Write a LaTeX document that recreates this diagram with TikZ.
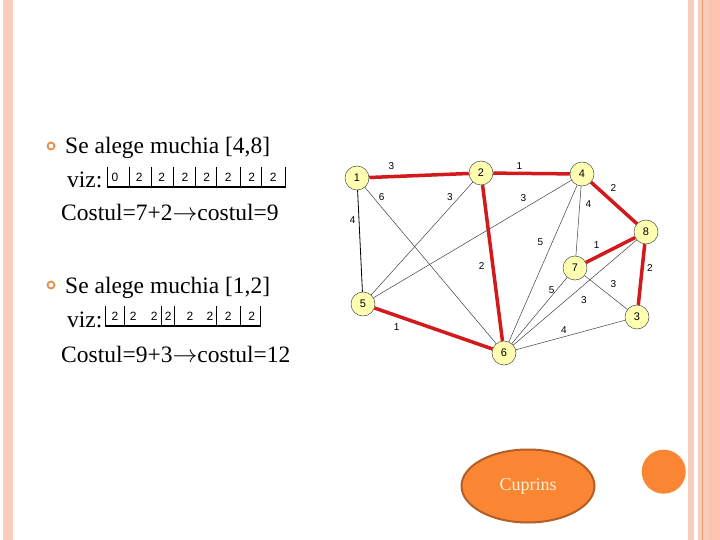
\documentclass[tikz,border=0pt]{standalone}
\usepackage{fontspec}
\setmainfont{Liberation Serif}
\newfontfamily\gfont{Liberation Sans}
\usetikzlibrary{shapes.geometric}
\definecolor{pinkband}{RGB}{250,204,188}
\definecolor{salmonband}{RGB}{252,196,176}
\definecolor{darkband}{RGB}{226,150,110}
\definecolor{nodefill}{RGB}{255,255,178}
\definecolor{edgered}{RGB}{210,25,28}
\definecolor{orangefill}{RGB}{250,134,52}
\definecolor{orangedraw}{RGB}{178,94,38}
\definecolor{bulletc}{RGB}{232,140,72}
\definecolor{cream}{RGB}{255,242,214}
\newcommand{\myarrow}{\ensuremath{\rightarrow}}
\tikzset{
  vert/.style={circle, draw=black!70, line width=0.5pt, fill=nodefill, minimum size=24pt, inner sep=0pt, font=\gfont\fontsize{11}{11}\selectfont},
  redge/.style={draw=edgered, line width=3.5pt},
  tedge/.style={draw=black!75, line width=0.5pt},
  elab/.style={font=\gfont\fontsize{10}{10}\selectfont, inner sep=0pt},
  bigtxt/.style={anchor=base west, inner sep=0pt, font=\fontsize{23.5}{27}\selectfont},
  cellnum/.style={font=\gfont\fontsize{12}{12}\selectfont, inner sep=0pt},
  bul/.style={circle, draw=bulletc, line width=1.8pt, minimum size=7pt, inner sep=0pt}
}
\begin{document}
\begin{tikzpicture}[x=1pt,y=-1pt]
\useasboundingbox (0,0) rectangle (720,540);
% borders
\fill[pinkband] (3,0) rectangle (13,540);
\fill[pinkband] (688,0) rectangle (694,540);
\fill[pinkband] (698,0) rectangle (720,540);
\fill[salmonband] (709,0) rectangle (720,540);
\fill[darkband] (701.5,0) rectangle (703,540);

% bullets and text
\node[bul] (b1) at (51,146) {};
\node[bul] (b2) at (51,285) {};
\node[bigtxt] (t1) at (65,154) {Se alege muchia [4,8]};
\node[bigtxt] (v1) at (67,188) {viz:};
\node[bigtxt] (c1) at (61,221) {Costul=7+2\myarrow costul=9};
\node[bigtxt] (t2) at (65,293) {Se alege muchia [1,2]};
\node[bigtxt] (v2) at (67,327) {viz:};
\node[bigtxt] (c2) at (61,362) {Costul=9+3\myarrow costul=12};

% table 1
\foreach \x in {107,129.3,151,173.3,195,216.7,240,261.7,285}
  \draw[line width=0.6pt] (\x,167) -- (\x,187);
\draw[line width=1.3pt] (106.5,187) -- (285.5,187);
\foreach \x/\d in {115/0,139.3/2,161.7/2,185/2,206.7/2,228.3/2,251.7/2,273.3/2}
  \node[cellnum] at (\x,177) {\d};

% table 2
\foreach \x in {105,124.3,161.7,174,216.7,240.7,260.7}
  \draw[line width=0.6pt] (\x,306) -- (\x,326);
\draw[line width=1.3pt] (104.5,326) -- (261.2,326);
\foreach \x/\d in {115/2,133.3/2,154.3/2,168.3/2,190/2,210/2,228.3/2,251.7/2}
  \node[cellnum] at (\x,316) {\d};

% graph nodes
\node[vert] (n1) at (357,178) {1};
\node[vert] (n2) at (481,173) {2};
\node[vert] (n4) at (582,174) {4};
\node[vert] (n8) at (646,232) {8};
\node[vert] (n7) at (575,268) {7};
\node[vert] (n5) at (363,304) {5};
\node[vert] (n3) at (637,317) {3};
\node[vert] (n6) at (504,353) {6};

% thin edges
\draw[tedge, line width=0.8pt, draw=black] (n1) -- (n5);
\draw[tedge] (n1) -- (n6);
\draw[tedge] (n2) -- (n5);
\draw[tedge] (n4) -- (n5);
\draw[tedge] (n4) -- (n6);
\draw[tedge] (n4) -- (n7);
\draw[tedge] (n7) -- (n6);
\draw[tedge] (n8) -- (n6);
\draw[tedge] (n7) -- (n3);
\draw[tedge] (n3) -- (n6);
% red edges
\draw[redge] (n1) -- (n2);
\draw[redge] (n2) -- (n4);
\draw[redge] (n4) -- (n8);
\draw[redge] (n8) -- (n7);
\draw[redge] (n8) -- (n3);
\draw[redge] (n2) -- (n6);
\draw[redge] (n5) -- (n6);

% edge labels
\node[elab] (l12) at (391.5,166.5) {3};
\node[elab] (l24) at (519.3,166) {1};
\node[elab] (l48) at (613.5,188.3) {2};
\node[elab] (l87) at (596.7,245.5) {1};
\node[elab] (l83) at (650,268.3) {2};
\node[elab] (l26) at (481.7,266.5) {2};
\node[elab] (l56) at (396.7,327.5) {1};
\node[elab] (l15) at (352.7,220) {4};
\node[elab] (l16) at (381.7,196.7) {6};
\node[elab] (l25) at (450,197) {3};
\node[elab] (l45) at (523.5,198.3) {3};
\node[elab] (l46) at (540.5,242) {5};
\node[elab] (l47) at (588.5,204) {4};
\node[elab] (l76) at (551.7,290) {5};
\node[elab] (l86) at (584,300) {3};
\node[elab] (l73) at (613.3,284) {3};
\node[elab] (l36) at (564,330) {4};

% bottom shapes
\node[ellipse, fill=orangefill, draw=orangedraw, line width=2pt, minimum width=133pt, minimum height=73pt, inner sep=0pt,
      text=cream, font=\fontsize{18}{20}\selectfont] (cup) at (528,486) {Cuprins};
\node[circle, fill=orangefill, minimum size=44pt, inner sep=0pt] (dot) at (663.7,471.7) {};
\end{tikzpicture}
\end{document}
